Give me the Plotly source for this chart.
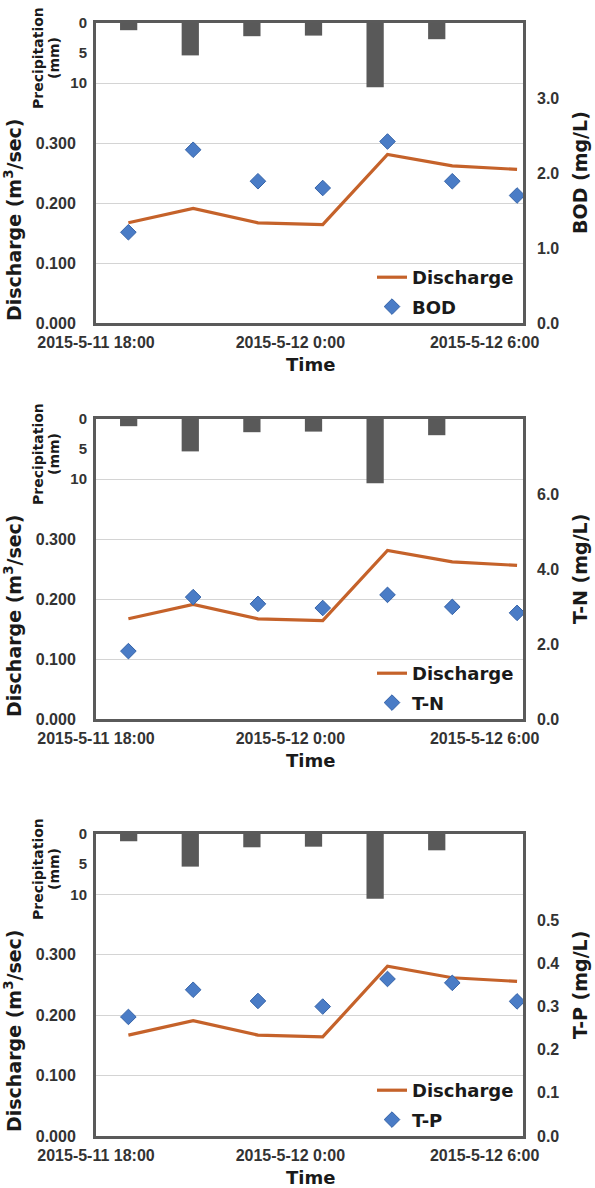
import plotly.graph_objects as go

# ---------------- data ----------------
times = ["2015-05-11 19:00", "2015-05-11 21:00", "2015-05-11 23:00",
         "2015-05-12 01:00", "2015-05-12 03:00", "2015-05-12 05:00",
         "2015-05-12 07:00"]
discharge = [0.167, 0.191, 0.167, 0.164, 0.281, 0.262, 0.256]
bod = [1.21, 2.31, 1.89, 1.80, 2.42, 1.89, 1.70]
tn = [1.81, 3.25, 3.07, 2.96, 3.31, 2.99, 2.83]
tp = [0.276, 0.339, 0.313, 0.300, 0.364, 0.355, 0.312]

precip_periods = ["P1", "P2", "P3", "P4", "P5", "P6", "P7"]
precip = [1.2, 5.4, 2.2, 2.1, 10.7, 2.7, 0.0]

x_tickvals = ["2015-05-11 18:00", "2015-05-12 00:00", "2015-05-12 06:00"]
x_ticktext = ["2015-5-11 18:00", "2015-5-12 0:00", "2015-5-12 6:00"]
x_range = ["2015-05-11 18:00", "2015-05-12 07:11"]

q_ticks = {
    "BOD": [0.0, 1.0, 2.0, 3.0],
    "T-N": [0.0, 2.0, 4.0, 6.0],
    "T-P": [0.0, 0.1, 0.2, 0.3, 0.4, 0.5],
}
q_max = {"BOD": 4.0, "T-N": 8.0, "T-P": 0.7}
q_vals = {"BOD": bod, "T-N": tn, "T-P": tp}
q_names = ["BOD", "T-N", "T-P"]

dis_tickvals = [0.0, 0.1, 0.2, 0.3, 0.4]
dis_ticktext = ["0.000", "0.100", "0.200", "0.300", " "]
pr_tickvals = [0, 5, 10]

# ---------------- layout geometry ----------------
W, H = 595, 1188
ML, MR = 96, 72
PW = W - ML - MR
tops = [23, 419, 834]
bottoms = [323, 719, 1136]

def py(p):
    return 1 - p / H

def px(p):
    return (p - ML) / PW

LINE_C = "#C5622A"
MARK_C = "#4A7CC6"
BAR_C = "#595959"
FRAME_C = "#5a5a5a"
GRID_C = "#d4d4d4"
TICK_FONT = dict(family="Liberation Sans", size=16, color="#333333", weight="bold")
TITLE_FAM = "DejaVu Sans"

fig = go.Figure()
layout = dict(
    width=W, height=H,
    margin=dict(l=ML, r=MR, t=0, b=0, autoexpand=False),
    paper_bgcolor="white", plot_bgcolor="white",
    showlegend=True,
)
annotations = []

for k, name in enumerate(q_names):
    xd = 2 * k + 1
    xc = 2 * k + 2
    yd = 3 * k + 1
    yp = 3 * k + 2
    yq = 3 * k + 3
    xd_id = "x" if xd == 1 else f"x{xd}"
    xc_id = f"x{xc}"
    yd_id = "y" if yd == 1 else f"y{yd}"
    yp_id = f"y{yp}"
    yq_id = f"y{yq}"
    key = lambda a, i: a + ("" if i == 1 else str(i))
    dom = [py(bottoms[k]), py(tops[k])]
    leg = "legend" if k == 0 else f"legend{k+1}"

    fig.add_trace(go.Bar(x=precip_periods, y=precip, xaxis=xc_id, yaxis=yp_id,
                         marker=dict(color=BAR_C, line=dict(width=0)),
                         width=0.28, showlegend=False))
    fig.add_trace(go.Scatter(x=times, y=discharge, xaxis=xd_id, yaxis=yd_id,
                             mode="lines", name="Discharge",
                             line=dict(color=LINE_C, width=3.2),
                             legend=leg, legendgroup=f"d{k}"))
    fig.add_trace(go.Scatter(x=times, y=q_vals[name], xaxis=xd_id, yaxis=yq_id,
                             mode="markers", name=name,
                             marker=dict(symbol="diamond", size=12, color=MARK_C,
                                         line=dict(color="#3563a8", width=1)),
                             legend=leg, legendgroup=f"q{k}"))

    layout[key("xaxis", xd)] = dict(
        domain=[0, 1], anchor=yd_id, type="date", range=x_range,
        tickvals=x_tickvals, ticktext=x_ticktext, tickfont=TICK_FONT,
        showgrid=False, showline=True, mirror=True, linecolor=FRAME_C,
        linewidth=3, ticks="", zeroline=False, ticklabelstandoff=3,
        automargin=False,
    )
    layout[key("xaxis", xc)] = dict(
        overlaying=xd_id, anchor=yp_id, type="category",
        range=[-0.53, 6.40], visible=False, automargin=False,
    )
    layout[key("yaxis", yd)] = dict(
        domain=dom, anchor=xd_id, range=[0, 0.5],
        tickvals=dis_tickvals, ticktext=dis_ticktext, tickfont=TICK_FONT,
        showgrid=True, gridcolor=GRID_C, gridwidth=1,
        showline=True, mirror=True, linecolor=FRAME_C, linewidth=3,
        ticks="", zeroline=False, ticklabelstandoff=14, automargin=False,
    )
    layout[key("yaxis", yp)] = dict(
        overlaying=yd_id, anchor=xc_id, side="left", range=[50, 0],
        tickvals=pr_tickvals, tickfont=dict(family="Liberation Sans", size=15,
                                            color="#333333", weight="bold"),
        showgrid=False, showline=False, ticks="", zeroline=False,
        ticklabelstandoff=8, automargin=False,
    )
    layout[key("yaxis", yq)] = dict(
        overlaying=yd_id, anchor=xd_id, side="right", range=[0, q_max[name]],
        tickvals=q_ticks[name], tickformat=".1f", tickfont=TICK_FONT,
        showgrid=False, showline=False, ticks="", zeroline=False,
        ticklabelstandoff=13, automargin=False,
    )
    layout[leg] = dict(
        x=px(372), xanchor="left", y=py(bottoms[k] - 31), yanchor="middle",
        bgcolor="rgba(0,0,0,0)", borderwidth=0,
        font=dict(family=TITLE_FAM, size=18, color="#1a1a1a", weight="bold"),
        traceorder="grouped", tracegroupgap=3,
    )

    # axis titles
    annotations.append(dict(
        text="Discharge (m<sup>3</sup>/sec)", textangle=-90,
        x=px(13), y=py(tops[k] + 197), xref="paper", yref="paper",
        xanchor="center", yanchor="middle", showarrow=False,
        font=dict(family=TITLE_FAM, size=19, color="#1a1a1a", weight="bold"),
    ))
    annotations.append(dict(
        text="Precipitation", textangle=-90,
        x=px(38), y=py(tops[k] + 35), xref="paper", yref="paper",
        xanchor="center", yanchor="middle", showarrow=False,
        font=dict(family=TITLE_FAM, size=14, color="#1a1a1a", weight="bold"),
    ))
    annotations.append(dict(
        text="(mm)", textangle=-90,
        x=px(54), y=py(tops[k] + 35), xref="paper", yref="paper",
        xanchor="center", yanchor="middle", showarrow=False,
        font=dict(family=TITLE_FAM, size=14, color="#1a1a1a", weight="bold"),
    ))
    annotations.append(dict(
        text=f"{name} (mg/L)", textangle=-90,
        x=px(580), y=py((tops[k] + bottoms[k]) / 2), xref="paper", yref="paper",
        xanchor="center", yanchor="middle", showarrow=False,
        font=dict(family=TITLE_FAM, size=19, color="#1a1a1a", weight="bold"),
    ))
    annotations.append(dict(
        text="Time",
        x=px(310), y=py(bottoms[k] + 41), xref="paper", yref="paper",
        xanchor="center", yanchor="middle", showarrow=False,
        font=dict(family=TITLE_FAM, size=18, color="#1a1a1a", weight="bold"),
    ))

layout["annotations"] = annotations
fig.update_layout(**layout)
fig.write_html("out.html",
               config={"displayModeBar": False},
               post_script="document.body.style.margin='0';document.body.style.overflow='hidden';")
